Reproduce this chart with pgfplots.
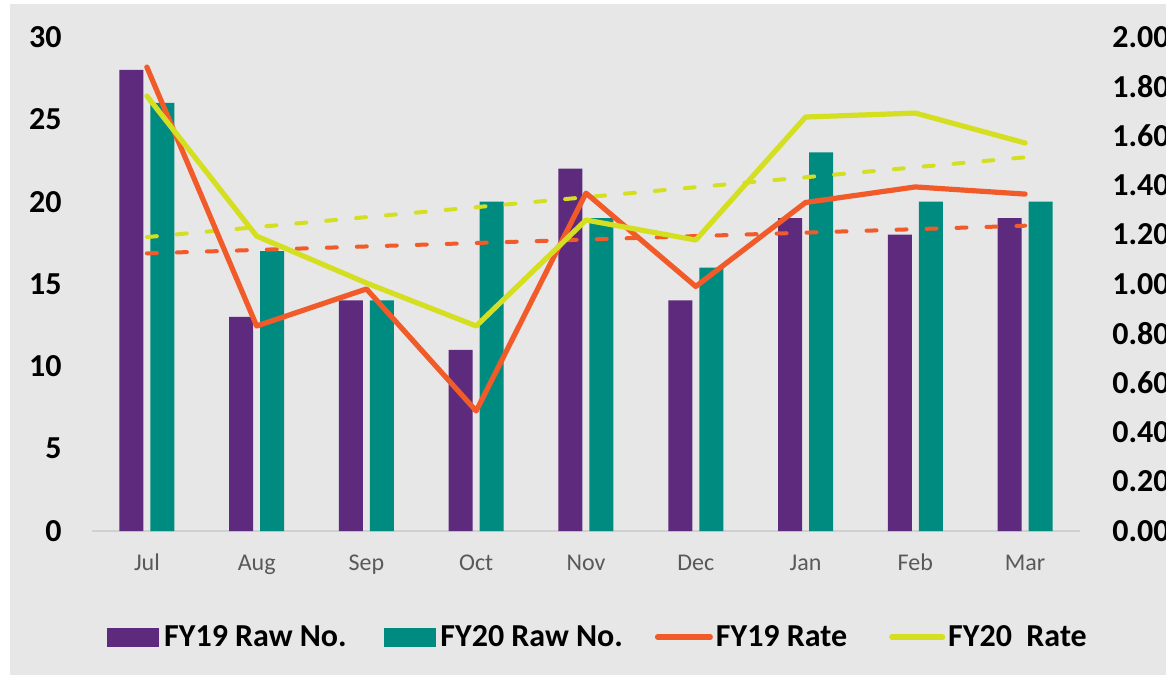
\documentclass[border=0pt]{standalone}
\usepackage{pgfplots}
\pgfplotsset{compat=1.18}
\usepackage{fontspec}
\setmainfont{Carlito}
\definecolor{bggray}{HTML}{E7E7E7}
\definecolor{axgray}{HTML}{D0D0D0}
\definecolor{lblgray}{HTML}{595959}
\definecolor{cpurple}{HTML}{5E2A7E}
\definecolor{cteal}{HTML}{008B80}
\definecolor{corange}{HTML}{F15A29}
\definecolor{cyellow}{HTML}{D5DF22}
\begin{document}
\begin{tikzpicture}
\useasboundingbox (0,0) rectangle (583pt,337.5pt);
\fill[bggray] (5pt,0) rectangle (590pt,335.5pt);
\begin{axis}[
  at={(46pt,72pt)}, anchor=south west,
  scale only axis, width=494pt, height=247pt,
  xmin=-0.5, xmax=8.5, ymin=0, ymax=30,
  xtick={0,...,8},
  xticklabels={Jul,Aug,Sep,Oct,Nov,Dec,Jan,Feb,Mar},
  ytick={0,5,10,15,20,25,30},
  axis x line*=bottom, axis y line*=left,
  x axis line style={-, draw=axgray, line width=0.8pt},
  y axis line style={draw=none},
  major tick length=0pt,
  /pgf/number format/assume math mode=true,
  xticklabel style={anchor=base, yshift=-19.5pt, inner sep=0pt, text=lblgray, font=\fontsize{12}{14}\selectfont},
  yticklabel style={anchor=east, inner sep=0pt, xshift=-15pt, font=\bfseries\fontsize{16}{19}\selectfont},
  clip=false,
]
\addplot[ybar, bar width=12pt, bar shift=-7.75pt, fill=cpurple, draw=none] coordinates {
  (0,28) (1,13) (2,14) (3,11) (4,22) (5,14) (6,19) (7,18) (8,19)};
\addplot[ybar, bar width=12pt, bar shift=7.75pt, fill=cteal, draw=none] coordinates {
  (0,26) (1,17) (2,14) (3,20) (4,19) (5,16) (6,23) (7,20) (8,20)};
\end{axis}
\begin{axis}[
  at={(46pt,72pt)}, anchor=south west,
  scale only axis, width=494pt, height=247pt,
  xmin=-0.5, xmax=8.5, ymin=0, ymax=2,
  hide x axis,
  axis y line*=right,
  y axis line style={draw=none},
  major tick length=0pt,
  ytick={0,0.2,0.4,0.6,0.8,1,1.2,1.4,1.6,1.8,2},
  /pgf/number format/.cd, fixed, fixed zerofill, precision=2, assume math mode=true,
  /pgfplots/.cd,
  yticklabel style={anchor=west, inner sep=0pt, xshift=16pt, font=\bfseries\fontsize{16}{19}\selectfont},
  clip=false,
  legend columns=4,
  legend style={at={(0.0152,-0.2146)}, anchor=west, draw=none, fill=none, inner sep=0pt,
    font=\bfseries\fontsize{16}{19}\selectfont,
    nodes={inner sep=0pt},
    /tikz/every odd column/.append style={column sep=2.5pt},
    /tikz/every even column/.append style={column sep=18.5pt},
    /tikz/column 5/.append style={column sep=0.5pt},
    /tikz/column 7/.append style={column sep=0pt}},
]
\addlegendimage{legend image code/.code={\fill[cpurple] (0pt,-4.5pt) rectangle (25.5pt,4.5pt);}}
\addlegendentry{FY19 Raw No.}
\addlegendimage{legend image code/.code={\fill[cteal] (0pt,-4.5pt) rectangle (25.5pt,4.5pt);}}
\addlegendentry{FY20 Raw No.\hspace*{-2.5pt}}
% trend lines
\addplot[forget plot, corange, line width=2pt, line cap=round, dash pattern=on 5pt off 10pt] coordinates {(0,1.124) (8,1.236)};
\addplot[forget plot, cyellow, line width=2pt, line cap=round, dash pattern=on 5pt off 10pt] coordinates {(0,1.190) (8,1.513)};
\addplot[corange, line width=2.6pt, line cap=round, line join=round, mark=none,
  legend image code/.code={\draw[overlay, corange, line width=2.6pt, line cap=round] (1.3pt,0pt) -- (27.7pt,0pt);
    \path[draw=none, fill=none] (0pt,-4.5pt) rectangle (28pt,4.5pt);}] coordinates {
  (0,1.878) (1,0.830) (2,0.980) (3,0.486) (4,1.368) (5,0.990) (6,1.330) (7,1.393) (8,1.364)};
\addlegendentry{FY19 Rate\hspace*{2.5pt}}
\addplot[cyellow, line width=2.6pt, line cap=round, line join=round, mark=none,
  legend image code/.code={\draw[overlay, cyellow, line width=2.6pt, line cap=round] (1.3pt,0pt) -- (26.7pt,0pt);
    \path[draw=none, fill=none] (0pt,-4.5pt) rectangle (27pt,4.5pt);}] coordinates {
  (0,1.761) (1,1.194) (2,1.004) (3,0.830) (4,1.259) (5,1.178) (6,1.676) (7,1.692) (8,1.571)};
\addlegendentry{FY20\ \ Rate}
\end{axis}
\end{tikzpicture}
\end{document}
